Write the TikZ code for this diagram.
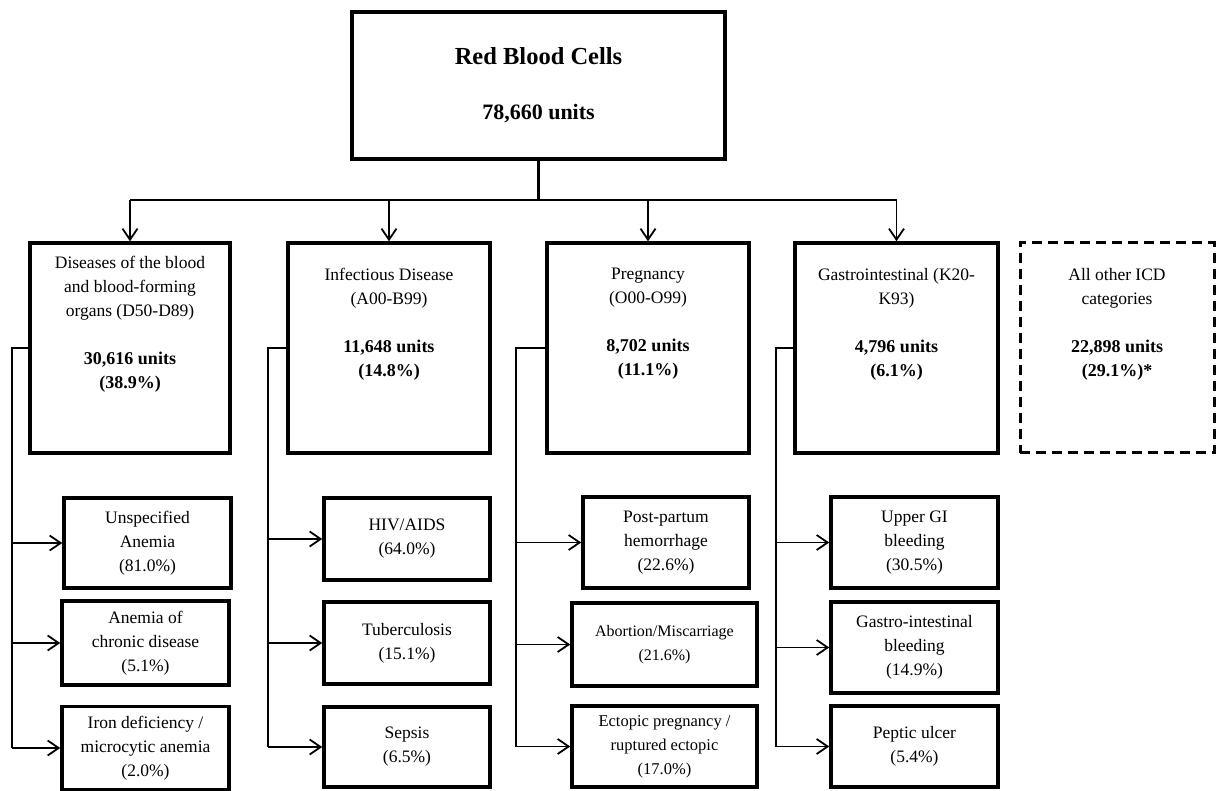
\documentclass[tikz,border=0pt]{standalone}
\usepackage{fontspec}
\setmainfont{Liberation Serif}
\usetikzlibrary{arrows.meta}
\newcommand{\B}[1]{{\bfseries\fontsize{18}{24}\selectfont #1}}
\begin{document}
\begin{tikzpicture}[x=1pt,y=-1pt,
  box/.style={draw=black, line width=3.5pt, inner sep=0pt, align=center, font=\fontsize{17.5}{24}\selectfont},
  dbox/.style={draw=black, line width=3pt, dash pattern=on 10pt off 6pt, inner sep=0pt},
  txt/.style={align=center, inner sep=0pt, font=\fontsize{17.5}{24}\selectfont},
  conn/.style={line width=1.8pt},
  arr/.style={line width=1.8pt, -{Straight Barb[length=11pt,width=15pt]}},
  stem/.style={line width=3pt}]
\useasboundingbox (0,0) rectangle (1216,791);

% top box
\node[box, minimum width=373pt, minimum height=147pt, font=\fontsize{22}{30}\selectfont\bfseries] (top) at (538.5,85.5)
  {{\fontsize{24.5}{30}\selectfont Red Blood Cells}\\[25pt]78,660 units};

% category boxes
\node[box, minimum width=200pt, minimum height=210pt] (c1) at (130,348) {};
\node[box, minimum width=202pt, minimum height=210pt] (c2) at (389,348) {};
\node[box, minimum width=202pt, minimum height=210pt] (c3) at (648,348) {};
\node[box, minimum width=203pt, minimum height=210pt] (c4) at (896.5,348) {};
\node[dbox, minimum width=194pt, minimum height=210pt] (c5) at (1117,348) {};

\node[txt] (c1t) at (130,324) {Diseases of the blood\\and blood-forming\\organs (D50-D89)\\[24pt]\B{30,616 units}\\\B{(38.9\%)}};
\node[txt] (c2t) at (389,324) {Infectious Disease\\(A00-B99)\\[24pt]\B{11,648 units}\\\B{(14.8\%)}};
\node[txt] (c3t) at (648,324) {Pregnancy\\(O00-O99)\\[24pt]\B{8,702 units}\\\B{(11.1\%)}};
\node[txt] (c4t) at (896.5,324) {Gastrointestinal (K20-\\K93)\\[24pt]\B{4,796 units}\\\B{(6.1\%)}};
\node[txt] (c5t) at (1117,324) {All other ICD\\categories\\[24pt]\B{22,898 units}\\\B{(29.1\%)*}};

% sub boxes column 1
\node[box, minimum width=167pt, minimum height=90pt] (s11) at (147.5,543) {Unspecified\\Anemia\\(81.0\%)};
\node[box, minimum width=167pt, minimum height=84pt] (s12) at (145.5,643) {Anemia of\\chronic disease\\(5.1\%)};
\node[box, minimum width=167pt, minimum height=83pt] (s13) at (145.5,748) {Iron deficiency /\\microcytic anemia\\(2.0\%)};
% column 2
\node[box, minimum width=166pt, minimum height=82pt] (s21) at (407,539) {HIV/AIDS\\(64.0\%)};
\node[box, minimum width=166pt, minimum height=82pt] (s22) at (407,643) {Tuberculosis\\(15.1\%)};
\node[box, minimum width=166pt, minimum height=80pt] (s23) at (407,747) {Sepsis\\(6.5\%)};
% column 3
\node[box, minimum width=166pt, minimum height=91pt] (s31) at (666,542.5) {Post-partum\\hemorrhage\\(22.6\%)};
\node[box, minimum width=185pt, minimum height=83pt, font=\fontsize{16}{24}\selectfont] (s32) at (664.5,644.5) {Abortion/Miscarriage\\(21.6\%)};
\node[box, minimum width=185pt, minimum height=81pt, font=\fontsize{16.5}{24}\selectfont] (s33) at (664.5,746.5) {Ectopic pregnancy /\\ruptured ectopic\\(17.0\%)};
% column 4
\node[box, minimum width=167pt, minimum height=91pt] (s41) at (914.5,542.5) {Upper GI\\bleeding\\(30.5\%)};
\node[box, minimum width=167pt, minimum height=91pt] (s42) at (914.5,647.5) {Gastro-intestinal\\bleeding\\(14.9\%)};
\node[box, minimum width=167pt, minimum height=81pt] (s43) at (914.5,746.5) {Peptic ulcer\\(5.4\%)};

% top connectors
\coordinate (bus) at (538.5,200);
\draw[stem] (top.south) -- (bus);
\draw[conn] (c1.north |- bus) -- (c4.north |- bus);
\foreach \c in {c1,c2,c3,c4} \draw[arr] (\c.north |- bus) -- (\c.north);

% column connectors
\coordinate (v1) at (12,348);
\coordinate (v2) at (268,348);
\coordinate (v3) at (516,348);
\coordinate (v4) at (776,348);
\foreach \k in {1,2,3,4} {
  \draw[conn] (c\k.west) -- (v\k) -- (v\k |- s\k3.west);
  \foreach \j in {1,2,3} \draw[arr] (v\k |- s\k\j.west) -- (s\k\j.west);
}
\end{tikzpicture}
\end{document}
